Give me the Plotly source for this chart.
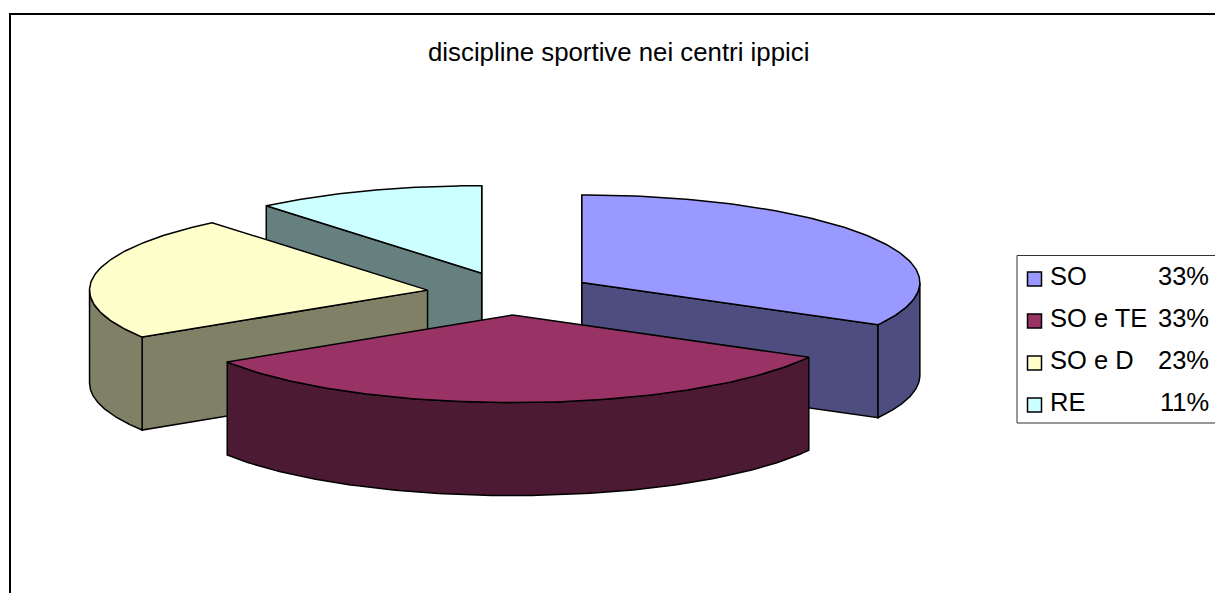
import numpy as np
import plotly.graph_objects as go

labels = ["SO", "SO e TE", "SO e D", "RE"]
values = [33, 33, 23, 11]
top_colors = ["#9999FF", "#993366", "#FFFFCC", "#CCFFFF"]
side_colors = ["#4D4D80", "#4D1A33", "#808066", "#668080"]
title = "discipline sportive nei centri ippici"

# pie geometry in page pixels
CX, CY = 510, 293.5
RX, RY = 338, 87.5
DEPTH = 93
EXPLODE = 0.247
# back slices first so the front ones cover them
draw_order = [3, 2, 0, 1]


def ring(apex, a0, a1):
    # angles clockwise from 12 o'clock, in degrees
    a = np.radians(np.linspace(a0, a1, 120))
    return apex[0] + RX * np.sin(a), apex[1] - RY * np.cos(a)


def face(fig, x, y, color):
    fig.add_trace(go.Scatter(
        x=list(x) + [x[0]],
        y=list(y) + [y[0]],
        mode="lines",
        fill="toself",
        fillcolor=color,
        line=dict(color="black", width=1.5),
        hoverinfo="skip",
        showlegend=False
    ))


def cut_side(fig, apex, angle, color):
    ex, ey = ring(apex, angle, angle)
    x = [apex[0], ex[0], ex[0], apex[0]]
    y = [apex[1], ey[0], ey[0] + DEPTH, apex[1] + DEPTH]
    face(fig, x, y, color)


edges = np.cumsum([0] + values) / sum(values) * 360

fig = go.Figure()

for i in draw_order:
    a0, a1 = edges[i], edges[i + 1]
    mid = np.radians((a0 + a1) / 2)
    apex = (CX + EXPLODE * RX * np.sin(mid), CY - EXPLODE * RY * np.cos(mid))

    # cut faces turned towards the viewer
    if np.sin(np.radians(a0)) < 1e-6:
        cut_side(fig, apex, a0, side_colors[i])
    if np.sin(np.radians(a1)) > -1e-6:
        cut_side(fig, apex, a1, side_colors[i])

    # outer rim, only the front half shows
    r0, r1 = max(a0, 90), min(a1, 270)
    if r0 < r1:
        rx, ry = ring(apex, r0, r1)
        face(fig, np.r_[rx, rx[::-1]], np.r_[ry, ry[::-1] + DEPTH], side_colors[i])

    # top
    tx, ty = ring(apex, a0, a1)
    face(fig, np.r_[apex[0], tx], np.r_[apex[1], ty], top_colors[i])

shapes = [
    # chart frame, runs off the page on the right and bottom
    dict(type="rect", x0=10, y0=14, x1=1240, y1=620, line=dict(color="black", width=2)),
    # legend box
    dict(type="rect", x0=1017, y0=255.5, x1=1240, y1=423, fillcolor="white",
         line=dict(color="#333333", width=1)),
]
annotations = [
    dict(x=618, y=52, text=title, showarrow=False, xanchor="center", yanchor="middle",
         font=dict(size=25.8, color="black"))
]

for i, name in enumerate(labels):
    y = 279 + i * 42
    shapes.append(dict(type="rect", x0=1027.5, y0=y - 7, x1=1041.5, y1=y + 7,
                       fillcolor=top_colors[i], line=dict(color="black", width=1.5)))
    annotations.append(dict(x=1048, y=y - 3, text=name, showarrow=False, xanchor="left",
                            yanchor="middle", font=dict(size=25.5, color="black")))
    annotations.append(dict(x=1211, y=y - 3, text=str(values[i]) + "%", showarrow=False,
                            xanchor="right", yanchor="middle", font=dict(size=25.5, color="black")))

fig.update_layout(
    width=1215,
    height=593,
    margin=dict(l=0, r=0, t=0, b=0),
    plot_bgcolor="white",
    paper_bgcolor="white",
    font=dict(family="Liberation Sans"),
    showlegend=False,
    shapes=shapes,
    annotations=annotations,
    xaxis=dict(range=[0, 1215], visible=False, fixedrange=True),
    yaxis=dict(range=[593, 0], visible=False, fixedrange=True)
)

# the page's default body margin would push the chart 8px off
fig.write_html("out.html", config=dict(displayModeBar=False),
               post_script="document.body.style.margin = '0';")
